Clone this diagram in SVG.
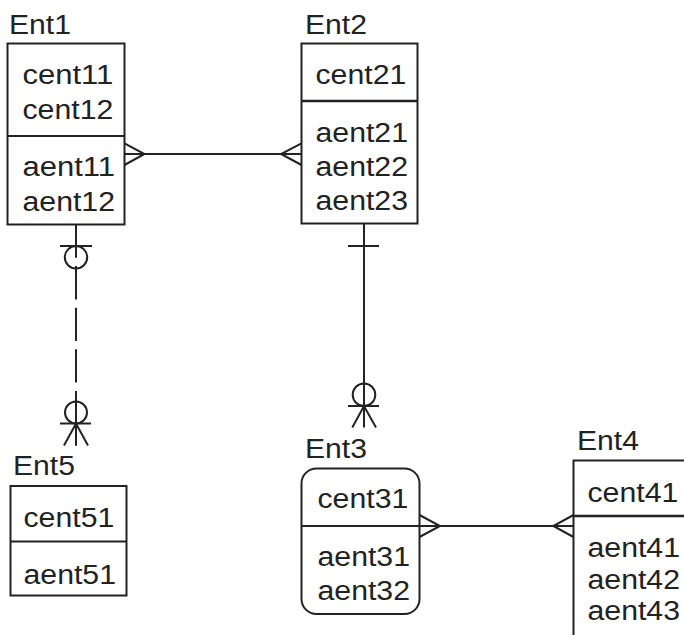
<svg xmlns="http://www.w3.org/2000/svg" width="684" height="635" viewBox="0 0 684 635">
<style>
.box{fill:#fff;stroke:#222;stroke-width:2}
.div{stroke:#222;stroke-width:2}
.thick{stroke:#222;stroke-width:2.6}
.t{font-family:"Liberation Sans",Arial,Helvetica,sans-serif;font-size:27px;fill:#222}
.ln{stroke:#222;stroke-width:2;fill:none}
</style>
<rect width="684" height="635" fill="#fff"/>
<g id="Ent1">
<text class="t" x="9" y="34" textLength="62" lengthAdjust="spacingAndGlyphs">Ent1</text>
<rect class="box" x="7.5" y="43.5" width="117" height="181"/>
<line class="div" x1="7.5" y1="136" x2="124.5" y2="136"/>
<text class="t" x="22.5" y="84" textLength="90.8" lengthAdjust="spacingAndGlyphs">cent11</text>
<text class="t" x="22.5" y="119" textLength="90.8" lengthAdjust="spacingAndGlyphs">cent12</text>
<text class="t" x="22.5" y="176" textLength="92.5" lengthAdjust="spacingAndGlyphs">aent11</text>
<text class="t" x="22.5" y="211" textLength="92.5" lengthAdjust="spacingAndGlyphs">aent12</text>
</g>
<g id="Ent2">
<text class="t" x="305" y="34" textLength="62" lengthAdjust="spacingAndGlyphs">Ent2</text>
<rect class="box" x="301.5" y="43.5" width="116" height="180"/>
<line class="thick" x1="301.5" y1="101" x2="417.5" y2="101"/>
<text class="t" x="315.5" y="84" textLength="90.8" lengthAdjust="spacingAndGlyphs">cent21</text>
<text class="t" x="315.5" y="142" textLength="92.5" lengthAdjust="spacingAndGlyphs">aent21</text>
<text class="t" x="315.5" y="176" textLength="92.5" lengthAdjust="spacingAndGlyphs">aent22</text>
<text class="t" x="315.5" y="210" textLength="92.5" lengthAdjust="spacingAndGlyphs">aent23</text>
</g>
<g id="Ent3">
<text class="t" x="305" y="458" textLength="62" lengthAdjust="spacingAndGlyphs">Ent3</text>
<rect class="box" x="301.5" y="468.5" width="118" height="145.5" rx="15" ry="15"/>
<line class="div" x1="301.5" y1="526" x2="419.5" y2="526"/>
<text class="t" x="317.5" y="508" textLength="90.8" lengthAdjust="spacingAndGlyphs">cent31</text>
<text class="t" x="317.5" y="566" textLength="92.5" lengthAdjust="spacingAndGlyphs">aent31</text>
<text class="t" x="317.5" y="600" textLength="92.5" lengthAdjust="spacingAndGlyphs">aent32</text>
</g>
<g id="Ent4">
<text class="t" x="577" y="450" textLength="62" lengthAdjust="spacingAndGlyphs">Ent4</text>
<path class="box" d="M700 460.5 H573.5 V640 H700 Z"/>
<line class="thick" x1="573.5" y1="516" x2="700" y2="516"/>
<text class="t" x="587.5" y="502" textLength="90.8" lengthAdjust="spacingAndGlyphs">cent41</text>
<text class="t" x="587.5" y="557" textLength="92.5" lengthAdjust="spacingAndGlyphs">aent41</text>
<text class="t" x="587.5" y="588.5" textLength="92.5" lengthAdjust="spacingAndGlyphs">aent42</text>
<text class="t" x="587.5" y="620" textLength="92.5" lengthAdjust="spacingAndGlyphs">aent43</text>
</g>
<g id="Ent5">
<text class="t" x="13" y="475" textLength="62" lengthAdjust="spacingAndGlyphs">Ent5</text>
<rect class="box" x="10.5" y="486" width="116" height="109.5"/>
<line class="div" x1="10.5" y1="541.5" x2="126.5" y2="541.5"/>
<text class="t" x="23.5" y="527" textLength="90.8" lengthAdjust="spacingAndGlyphs">cent51</text>
<text class="t" x="23.5" y="584" textLength="92.5" lengthAdjust="spacingAndGlyphs">aent51</text>
</g>
<g id="connectors">
<line class="ln" x1="124.5" y1="154" x2="301.5" y2="154"/>
<polyline class="ln" points="124.5,143.3 144.5,154 124.5,165"/>
<polyline class="ln" points="301.5,143.3 281,154 301.5,165"/>
<line class="ln" x1="76" y1="224.5" x2="76" y2="445.5" stroke-dasharray="33.3 8.3"/>
<line class="ln" x1="60" y1="246" x2="92" y2="246"/>
<circle class="ln" cx="76" cy="257.3" r="11.2"/>
<circle class="ln" cx="76" cy="412.5" r="11"/>
<line class="ln" x1="60" y1="423.5" x2="91" y2="423.5"/>
<polyline class="ln" points="64,445.5 76,423.5 88,445.5"/>
<line class="ln" x1="76" y1="423.5" x2="76" y2="445.5"/>
<line class="ln" x1="364" y1="223.5" x2="364" y2="427.5"/>
<line class="ln" x1="348" y1="246" x2="379" y2="246"/>
<circle class="ln" cx="364" cy="394.7" r="11.3"/>
<line class="ln" x1="348" y1="406" x2="379" y2="406"/>
<polyline class="ln" points="352.3,427.5 364,406 376,427.5"/>
<line class="ln" x1="419.5" y1="526" x2="573.5" y2="526"/>
<polyline class="ln" points="419.5,515 440,526 419.5,537"/>
<polyline class="ln" points="573.5,515 553.3,526 573.5,537"/>
</g>
</svg>
